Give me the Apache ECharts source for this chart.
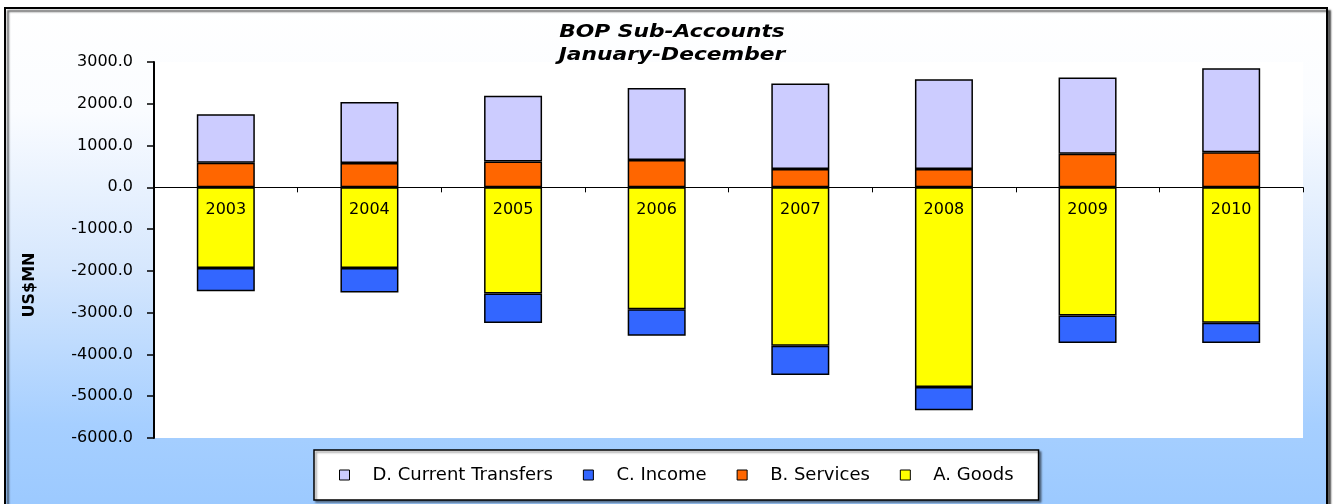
<!DOCTYPE html>
<html>
<head>
<meta charset="utf-8">
<script src="https://cdn.jsdelivr.net/npm/echarts/dist/echarts.min.js"></script>
<style>
  html, body { margin: 0; padding: 0; background: #fff; }
  #bop { width: 1333px; height: 504px; }
</style>
</head>
<body>
<div id="bop"></div>
<script>
// values (US$ MN)
var years = ['2003', '2004', '2005', '2006', '2007', '2008', '2009', '2010'];
var goods = [-1933, -1933, -2543, -2917, -3790, -4781, -3067, -3243];
var services = [590, 582, 619, 652, 440, 440, 805, 838];
var income = [-555, -586, -707, -635, -705, -557, -659, -483];
var transfers = [1160, 1461, 1576, 1724, 2048, 2150, 1826, 2014];
var legendOrder = ['D. Current Transfers', 'C. Income', 'B. Services', 'A. Goods'];

var font = '"DejaVu Sans", Arial, sans-serif';

function barSeries(name, color, values) {
    return {
        name: name,
        type: 'bar',
        stack: 'bop',
        barWidth: 58,
        itemStyle: { color: color, borderColor: '#000', borderWidth: 1.5 },
        data: values
    };
}

var goodsSeries = barSeries('A. Goods', '#ffff00', goods);
// the year labels sit just under the zero line, inside the goods bars
goodsSeries.label = {
    show: true,
    position: 'insideTop',
    distance: 15,
    formatter: '{b}',
    fontFamily: font,
    fontSize: 16,
    color: '#000'
};

var option = {
    animation: false,
    backgroundColor: 'transparent',
    graphic: [
        {
            type: 'rect',
            z: -10,
            shape: { x: 5, y: 8, width: 1322, height: 520 },
            style: {
                fill: new echarts.graphic.LinearGradient(0, 0, 0, 1, [
                    { offset: 0, color: '#ffffff' },
                    { offset: 0.2, color: '#fafcff' },
                    { offset: 0.5, color: '#d6e7fd' },
                    { offset: 0.8, color: '#a6cfff' },
                    { offset: 1, color: '#99c8ff' }
                ]),
                stroke: '#000',
                lineWidth: 2,
                shadowColor: 'rgba(0,0,0,0.6)',
                shadowOffsetX: 3,
                shadowOffsetY: 3,
                shadowBlur: 2
            }
        },
        {
            type: 'text',
            x: 672, y: 33,
            scaleX: 1.28,
            style: {
                text: 'BOP Sub-Accounts',
                font: 'italic bold 17px ' + font,
                fill: '#000',
                align: 'center',
                verticalAlign: 'middle'
            }
        },
        {
            type: 'text',
            x: 672, y: 56,
            scaleX: 1.28,
            style: {
                text: 'January-December',
                font: 'italic bold 17px ' + font,
                fill: '#000',
                align: 'center',
                verticalAlign: 'middle'
            }
        },
        {
            type: 'text',
            x: 30, y: 285,
            rotation: Math.PI / 2,
            style: {
                text: 'US$MN',
                font: 'bold 16px ' + font,
                fill: '#000',
                align: 'center',
                verticalAlign: 'middle'
            }
        }
    ],
    grid: {
        left: 154, right: 30, top: 62, bottom: 66,
        show: true,
        backgroundColor: '#fff',
        borderWidth: 0
    },
    legend: {
        data: legendOrder,
        icon: 'rect',
        left: 314,
        top: 450,
        padding: [15, 25, 15, 25],
        itemGap: 30,
        itemWidth: 10,
        itemHeight: 10,
        backgroundColor: '#fff',
        borderColor: '#000',
        borderWidth: 1.5,
        shadowColor: 'rgba(0,0,0,0.4)',
        shadowOffsetX: 2,
        shadowOffsetY: 2,
        shadowBlur: 2,
        itemStyle: { borderColor: '#000', borderWidth: 1 },
        textStyle: {
            fontFamily: font,
            fontSize: 18,
            color: '#000',
            lineHeight: 20,
            padding: [0, 0, 0, 18]
        }
    },
    xAxis: {
        type: 'category',
        data: years,
        z: 10,
        axisLine: { onZero: true, lineStyle: { color: '#000', width: 1 } },
        axisTick: { show: true, length: 5, lineStyle: { color: '#000' } },
        axisLabel: { show: false },
        splitLine: { show: false }
    },
    yAxis: {
        type: 'value',
        min: -6000,
        max: 3000,
        interval: 1000,
        axisLine: { show: true, lineStyle: { color: '#000', width: 2 } },
        axisTick: { show: true, length: 7, lineStyle: { color: '#000', width: 1.5 } },
        axisLabel: {
            fontFamily: font, fontSize: 16, color: '#000', margin: 21,
            formatter: function (v) { return v.toFixed(1); }
        },
        splitLine: { show: false }
    },
    // stacking order: goods then income below zero, services then transfers above
    series: [
        goodsSeries,
        barSeries('B. Services', '#ff6600', services),
        barSeries('C. Income', '#3366ff', income),
        barSeries('D. Current Transfers', '#ccccff', transfers)
    ]
};

var chart = echarts.init(document.getElementById('bop'));
chart.setOption(option);
</script>
</body>
</html>
